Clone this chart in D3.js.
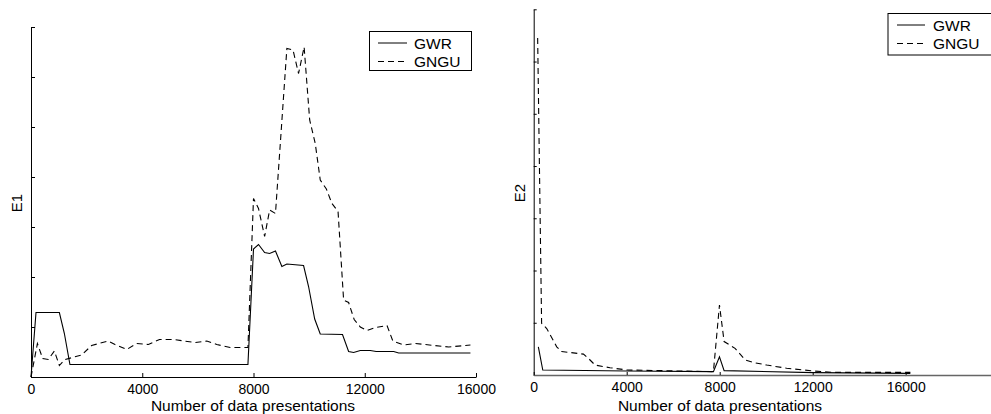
<!DOCTYPE html>
<html><head><meta charset="utf-8">
<script src="https://cdn.jsdelivr.net/npm/d3@7/dist/d3.min.js"></script>
<style>
html,body{margin:0;padding:0;background:#fff;}
svg text{font-family:"Liberation Sans",Arial,Helvetica,sans-serif;}
</style></head>
<body>
<svg id="c" width="991" height="414"></svg>
<script>
// ---- data (x: number of data presentations, y: error in axis units) ----
const xTicks = [0, 4000, 8000, 12000, 16000];
const seriesNames = ["GWR", "GNGU"];

const e1GwrX = [0,180,1020,1200,1400,7800,8000,8180,8400,8580,8790,9020,9200,9800,9980,10200,10400,11200,11420,11600,11840,12200,12410,13040,13220,15800];
const e1GwrY = [0,1.29,1.29,0.87,0.25,0.25,2.56,2.65,2.49,2.47,2.52,2.21,2.26,2.23,1.81,1.16,0.86,0.85,0.51,0.49,0.53,0.53,0.51,0.51,0.48,0.48];

const e1GnguX = [0,230,420,620,840,1020,1220,1820,2180,2780,3020,3440,3800,4220,4620,5120,5900,6320,6680,7160,7800,8000,8180,8400,8580,8790,9200,9420,9620,9820,10020,10220,10400,10620,10820,11040,11240,11420,11620,11840,12080,12380,12800,13010,13400,13820,15020,15800];
const e1GnguY = [0,0.67,0.37,0.35,0.52,0.23,0.35,0.44,0.63,0.72,0.65,0.55,0.67,0.65,0.75,0.75,0.69,0.72,0.65,0.59,0.59,3.57,3.37,2.81,3.34,3.27,6.57,6.54,6.07,6.6,5.14,4.67,3.94,3.76,3.47,3.31,1.54,1.49,1.15,1.0,0.93,0.99,1.03,0.72,0.64,0.67,0.6,0.64];

const e2GwrX = [200,390,4000,7730,7990,8190,12030,16200];
const e2GwrY = [0.54,0.096,0.077,0.064,0.35,0.083,0.045,0.032];

const e2GnguX = [170,340,560,990,1200,2140,2350,2640,3280,4000,7730,7990,8190,8660,9090,9450,10020,10880,12030,12890,16200];
const e2GnguY = [6.45,0.99,0.89,0.54,0.45,0.40,0.32,0.19,0.14,0.096,0.064,1.34,0.64,0.51,0.29,0.24,0.19,0.13,0.077,0.051,0.051];

const yTicks = [0,1,2,3,4,5,6,7];

// ---- drawing ----
const svg = d3.select("#c");
const TICKF = 14, TITLEF = 15.5, LEGF = 15.5, YLF = 15;

function zip(xs, ys){ return xs.map((x,i)=>[x, ys[i]]); }

function panel(opt){
  const x = d3.scaleLinear().domain([0,16000]).range([opt.x0, opt.x1]);
  const y = d3.scaleLinear().domain([0,7]).range([opt.yb, opt.yt]);
  const g = svg.append("g");

  // y axis (ticks inside, no labels)
  const ya = g.append("g").attr("transform", `translate(${opt.x0},0)`)
    .call(d3.axisLeft(y).tickValues(yTicks).tickSizeInner(-opt.tick).tickSizeOuter(0).tickFormat(""));
  ya.select(".domain").attr("stroke","#000");
  ya.selectAll(".tick line").attr("stroke","#000");

  // x axis
  const xa = g.append("g").attr("transform", `translate(0,${opt.yb})`)
    .call(d3.axisBottom(x).tickValues(xTicks).tickSizeInner(-opt.tick).tickSizeOuter(0).tickPadding(7).tickFormat(d3.format("d")));
  xa.select(".domain").attr("stroke", opt.axisColor).attr("stroke-width", opt.axisWidth);
  xa.selectAll(".tick line").attr("stroke","#000");
  xa.selectAll("text").attr("font-size", TICKF).attr("fill","#000")
    .attr("font-family","'Liberation Sans',Arial,sans-serif");
  if (opt.extendTo){
    g.append("line").attr("x1", opt.x1).attr("x2", opt.extendTo)
      .attr("y1", opt.yb+0.5).attr("y2", opt.yb+0.5)
      .attr("stroke", opt.axisColor).attr("stroke-width", opt.axisWidth);
  }

  const line = d3.line().x(d=>x(d[0])).y(d=>y(d[1]));
  g.append("path").datum(zip(opt.gx, opt.gy)).attr("d", line)
    .attr("fill","none").attr("stroke","#000").attr("stroke-width",1.1);
  g.append("path").datum(zip(opt.nx, opt.ny)).attr("d", line)
    .attr("fill","none").attr("stroke","#000").attr("stroke-width",1.1)
    .attr("stroke-dasharray","6,4");

  // labels
  g.append("text").attr("x", opt.titleX).attr("y", 411).attr("text-anchor","middle")
    .attr("font-size", TITLEF).text("Number of data presentations");
  g.append("text").attr("transform", `translate(${opt.ylx},${opt.yly}) rotate(-90)`)
    .attr("text-anchor","middle").attr("font-size", YLF).text(opt.ylabel);

  // legend
  const L = opt.leg;
  g.append("rect").attr("x", L.x).attr("y", L.y).attr("width", L.w).attr("height", L.h)
    .attr("fill","#fff").attr("stroke","#000").attr("stroke-width",1);
  seriesNames.forEach((nm,i)=>{
    const cy = L.y + 11.5 + i*18.5;
    const ln = g.append("line").attr("x1", L.lx0).attr("x2", L.lx1).attr("y1", cy).attr("y2", cy)
      .attr("stroke","#000").attr("stroke-width",1);
    if (i===1) ln.attr("stroke-dasharray","6,4");
    g.append("text").attr("x", L.tx).attr("y", cy+5.5).attr("font-size", LEGF).text(nm);
  });
}

panel({x0:31, x1:476, yb:377, yt:27, tick:4, axisColor:"#000", axisWidth:1,
  gx:e1GwrX, gy:e1GwrY, nx:e1GnguX, ny:e1GnguY,
  titleX:253, ylx:22, yly:203, ylabel:"E1",
  leg:{x:369.5, y:31.5, w:102, h:39, lx0:378, lx1:407, tx:414}});

panel({x0:533.7, x1:905.7, yb:375, yt:9.3, tick:3, axisColor:"#666", axisWidth:1.3, extendTo:991,
  gx:e2GwrX, gy:e2GwrY, nx:e2GnguX, ny:e2GnguY,
  titleX:720, ylx:525, yly:193, ylabel:"E2",
  leg:{x:888, y:13.5, w:110, h:41.5, lx0:897, lx1:925, tx:933}});
</script>
</body></html>
